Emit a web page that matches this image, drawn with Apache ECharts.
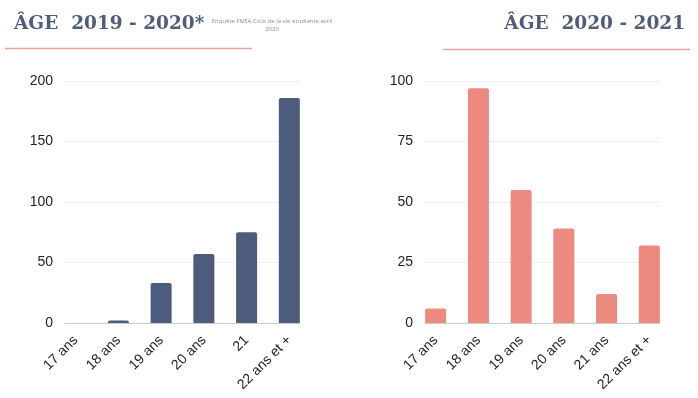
<!DOCTYPE html>
<html>
<head>
<meta charset="utf-8">
<script src="https://cdn.jsdelivr.net/npm/echarts@6/dist/echarts.min.js"></script>
<style>
  html, body { margin: 0; padding: 0; background: #fff; }
  #main { width: 698px; height: 398px; }
</style>
</head>
<body>
<div id="main"></div>
<script>
// age categories
const ages_2019 = ["17 ans", "18 ans", "19 ans", "20 ans", "21", "22 ans et +"]
const ages_2020 = ["17 ans", "18 ans", "19 ans", "20 ans", "21 ans", "22 ans et +"]
// counts per age
const counts_2019 = [0, 2, 33, 57, 75, 186]
const counts_2020 = [6, 97, 55, 39, 12, 32]

const color_blue = "#4b5c7d"
const color_salmon = "#ec8a80"
const title_color = "#4e5d7c"

var chartDom = document.getElementById('main');
var myChart = echarts.init(chartDom);
var option;

const axisLabelStyle = {
  color: '#222',
  fontSize: 14,
  fontFamily: 'Liberation Sans'
}
const titleStyle = { color: title_color, fontSize: 18.5, fontWeight: 'bold', fontFamily: 'DejaVu Serif' }

// grids 0/2: frame (split lines, axis line, y labels)
// grids 1/3: bars, slightly wider so the outer bars touch the frame edges
option = {
  animation: false,
  title: [
    { text: 'ÂGE  2019 - 2020*', left: 14, top: 15, padding: 0, textStyle: titleStyle },
    { text: 'ÂGE  2020 - 2021', right: 13, top: 15, padding: 0, textStyle: titleStyle }
  ],
  graphic: [
    {
      type: 'text',
      x: 272,
      y: 17,
      style: {
        text: 'Enquête FNEA Coût de la vie étudiante avril\n2020',
        fill: '#8a8f99',
        font: '6px "Open Sans"',
        align: 'center',
        lineHeight: 8
      }
    },
    {
      type: 'line',
      shape: { x1: 5, y1: 48.5, x2: 252, y2: 48.5 },
      style: { stroke: '#e9a59c', lineWidth: 1.5 }
    },
    {
      type: 'line',
      shape: { x1: 443, y1: 49.5, x2: 690, y2: 49.5 },
      style: { stroke: '#e9a59c', lineWidth: 1.5 }
    }
  ],
  grid: [
    { left: 65, top: 81, width: 235, height: 242 },
    { left: 54.3, top: 81, width: 256.4, height: 242 },
    { left: 425, top: 81, width: 235, height: 242 },
    { left: 414.3, top: 81, width: 256.4, height: 242 }
  ],
  xAxis: [
    {
      type: 'category', gridIndex: 0, data: ages_2019,
      axisTick: { show: false },
      axisLabel: { show: false },
      axisLine: { lineStyle: { color: '#ccc' } }
    },
    {
      type: 'category', gridIndex: 1, data: ages_2019,
      axisTick: { show: false },
      axisLine: { show: false },
      axisLabel: Object.assign({ rotate: 45, margin: 15, interval: 0 }, axisLabelStyle)
    },
    {
      type: 'category', gridIndex: 2, data: ages_2020,
      axisTick: { show: false },
      axisLabel: { show: false },
      axisLine: { lineStyle: { color: '#ccc' } }
    },
    {
      type: 'category', gridIndex: 3, data: ages_2020,
      axisTick: { show: false },
      axisLine: { show: false },
      axisLabel: Object.assign({ rotate: 45, margin: 15, interval: 0 }, axisLabelStyle)
    }
  ],
  yAxis: [
    {
      type: 'value', gridIndex: 0, min: 0, max: 200, interval: 50,
      axisLabel: Object.assign({ margin: 12 }, axisLabelStyle),
      splitLine: { lineStyle: { color: '#efefef' } }
    },
    {
      type: 'value', gridIndex: 1, min: 0, max: 200, interval: 50, show: false
    },
    {
      type: 'value', gridIndex: 2, min: 0, max: 100, interval: 25,
      axisLabel: Object.assign({ margin: 12 }, axisLabelStyle),
      splitLine: { lineStyle: { color: '#efefef' } }
    },
    {
      type: 'value', gridIndex: 3, min: 0, max: 100, interval: 25, show: false
    }
  ],
  series: [
    {
      type: 'bar', xAxisIndex: 1, yAxisIndex: 1,
      data: counts_2019,
      barWidth: 21,
      itemStyle: { color: color_blue, borderRadius: [2, 2, 0, 0] }
    },
    {
      type: 'bar', xAxisIndex: 3, yAxisIndex: 3,
      data: counts_2020,
      barWidth: 21,
      itemStyle: { color: color_salmon, borderRadius: [2, 2, 0, 0] }
    }
  ]
};
option && myChart.setOption(option);
</script>
</body>
</html>
